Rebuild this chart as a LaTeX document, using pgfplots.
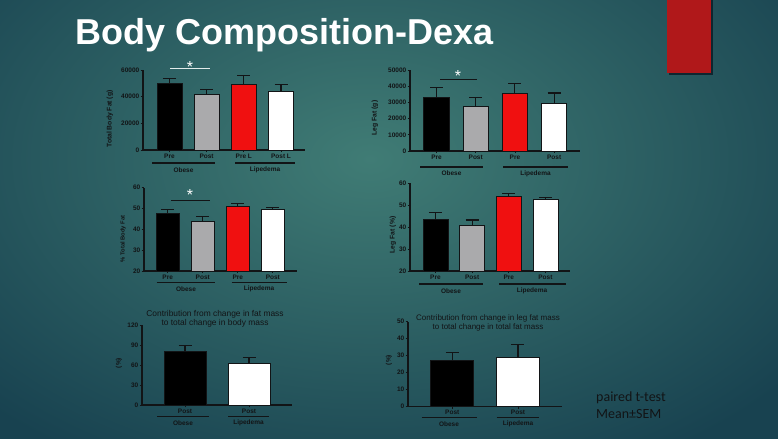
\documentclass[border=0pt]{standalone}
\usepackage{pgfplots}
\pgfplotsset{compat=1.18}
\usepackage{fontspec}
\setmainfont{Liberation Sans}
\newfontfamily\notefont{Carlito}
\definecolor{bgdark}{RGB}{24,66,80}
\definecolor{bglight}{RGB}{64,124,117}
\definecolor{shadow}{RGB}{14,38,48}
\definecolor{ink}{RGB}{18,20,22}
\definecolor{barred}{RGB}{240,16,16}
\definecolor{bargray}{RGB}{170,170,172}
\definecolor{slidered}{RGB}{176,24,26}
\newcommand{\tf}{\fontsize{6.5bp}{7bp}\selectfont\bfseries}
\pgfplotsset{
  dexa/.style={
    scale only axis, clip=true, anchor=south west,
    axis lines=left,
    axis line style={-, line width=1.1bp, ink},
    ybar,
    every tick/.style={ink, line width=0.8bp},
    major tick length=2.5bp,
    tick align=outside,
    tick label style={font=\tf, text=ink},
    /pgf/number format/assume math mode=true,
    /pgf/number format/1000 sep={},
    scaled y ticks=false,
    xticklabel style={inner sep=1bp},
    yticklabel style={inner sep=1bp},
  },
  b/.style={draw=ink, line width=0.8bp, bar shift=0pt,
    error bars/y dir=plus, error bars/y explicit,
    error bars/error bar style={line width=1.1bp, ink},
    error bars/error mark options={ink, line width=1.1bp, mark size=6.5bp, rotate=90}},
}
\newcommand{\sigstar}[2]{\node[anchor=base, text=white, inner sep=0, font=\fontsize{16bp}{16bp}\selectfont] at (#1,#2) {*};}
\begin{document}
\begin{tikzpicture}[x=1bp,y=1bp]
\path[use as bounding box] (0,0) rectangle (778,439);
\begin{scope}
\clip (0,0) rectangle (778,439);
\shade[inner color=bglight, outer color=bgdark] (-170,-70) rectangle (910,630);
\end{scope}
% red block
\fill[shadow] (668.5,364) rectangle (712.5,439);
\fill[slidered] (667,365.5) rectangle (711,439);
% title
\node[anchor=base west, text=white, font=\fontsize{36bp}{40bp}\selectfont\bfseries, inner sep=0] at (75,394) {Body Composition-Dexa};

% ---------- Chart 1: Total Body Fat ----------
\begin{axis}[dexa, at={(143bp,289bp)}, width=162bp, height=80bp,
  xmin=-0.71, xmax=3.645, ymin=0, ymax=60000,
  ytick={0,20000,40000,60000}, xtick={0,1,2,3},
  xticklabels={Pre,Post,Pre L,Post L}]
\addplot[b, fill=black, bar width=25bp] coordinates {(0,50000) +- (0,3800)};
\addplot[b, fill=bargray, bar width=25bp] coordinates {(1,42000) +- (0,3700)};
\addplot[b, fill=barred, bar width=25bp] coordinates {(2,49300) +- (0,6700)};
\addplot[b, fill=white, bar width=25bp] coordinates {(3,43700) +- (0,5600)};
\end{axis}
\node[rotate=90, font=\fontsize{6.8bp}{7bp}\selectfont\bfseries, text=ink] at (110,320) {Total Body Fat (g)};
\draw[white!85!bglight, line width=1bp] (170,370) -- (210,370);
\sigstar{190}{366}
\draw[ink, line width=1.4bp] (152,276) -- (215,276) (235,276) -- (295,276);
\node[font=\tf, text=ink] at (183.5,269) {Obese};
\node[font=\tf, text=ink] at (265,269) {Lipedema};

% ---------- Chart 2: Leg Fat (g) ----------
\begin{axis}[dexa, at={(410bp,288bp)}, width=170bp, height=81bp,
  xmin=-0.676, xmax=3.66, ymin=0, ymax=50000,
  ytick={0,10000,20000,30000,40000,50000}, xtick={0,1,2,3},
  xticklabels={Pre,Post,Pre,Post}]
\addplot[b, fill=black, bar width=25.5bp] coordinates {(0,33000) +- (0,6000)};
\addplot[b, fill=bargray, bar width=25.5bp] coordinates {(1,27300) +- (0,5500)};
\addplot[b, fill=barred, bar width=25.5bp] coordinates {(2,35300) +- (0,6600)};
\addplot[b, fill=white, bar width=25.5bp] coordinates {(3,29400) +- (0,6400)};
\end{axis}
\node[rotate=90, font=\fontsize{6.8bp}{7bp}\selectfont\bfseries, text=ink] at (375,321) {Leg Fat (g)};
\draw[ink, line width=1bp] (440,359) -- (477,359);
\sigstar{458}{357}
\draw[ink, line width=1.4bp] (420,272) -- (483,272) (503,272) -- (568,272);
\node[font=\tf, text=ink] at (451.5,265.5) {Obese};
\node[font=\tf, text=ink] at (535.5,265.5) {Lipedema};

% ---------- Chart 3: % Total Body Fat ----------
\begin{axis}[dexa, at={(144bp,168bp)}, width=153bp, height=83.3bp,
  xmin=-0.677, xmax=3.69, ymin=20, ymax=60,
  ytick={20,30,40,50,60}, xtick={0,1,2,3},
  xticklabels={Pre,Post,Pre,Post}]
\addplot[b, fill=black, bar width=23.3bp] coordinates {(0,47.7) +- (0,2.0)};
\addplot[b, fill=bargray, bar width=23.3bp] coordinates {(1,44.0) +- (0,2.0)};
\addplot[b, fill=barred, bar width=23.3bp] coordinates {(2,50.9) +- (0,1.3)};
\addplot[b, fill=white, bar width=23.3bp] coordinates {(3,49.7) +- (0,0.6)};
\end{axis}
\node[rotate=90, font=\fontsize{5.8bp}{6bp}\selectfont\bfseries, text=ink] at (123,200) {\% Total Body Fat};
\draw[ink, line width=1bp] (171,238.5) -- (210,238.5);
\sigstar{190}{238}
\draw[ink, line width=1.4bp] (156.7,156.7) -- (215,156.7) (231.7,156.7) -- (286.7,156.7);
\node[font=\tf, text=ink] at (186,150) {Obese};
\node[font=\tf, text=ink] at (259,150) {Lipedema};

% ---------- Chart 4: Leg Fat (%) ----------
\begin{axis}[dexa, at={(410bp,168bp)}, width=160bp, height=88bp,
  xmin=-0.695, xmax=3.67, ymin=20, ymax=60,
  ytick={20,30,40,50,60}, xtick={0,1,2,3},
  xticklabels={Pre,Post,Pre,Post}]
\addplot[b, fill=black, bar width=25bp] coordinates {(0,43.5) +- (0,3.0)};
\addplot[b, fill=bargray, bar width=25bp] coordinates {(1,40.9) +- (0,2.3)};
\addplot[b, fill=barred, bar width=25bp] coordinates {(2,53.8) +- (0,1.5)};
\addplot[b, fill=white, bar width=25bp] coordinates {(3,52.7) +- (0,0.6)};
\end{axis}
\node[rotate=90, font=\fontsize{6.8bp}{7bp}\selectfont\bfseries, text=ink] at (393,204) {Leg Fat (\%)};
\draw[ink, line width=1.4bp] (419,155) -- (483,155) (499,155) -- (566,155);
\node[font=\tf, text=ink] at (451,148) {Obese};
\node[font=\tf, text=ink] at (532,148) {Lipedema};

% ---------- Chart 5: contribution fat mass ----------
\begin{axis}[dexa, at={(142bp,34bp)}, width=150bp, height=80bp,
  xmin=-0.672, xmax=1.672, ymin=0, ymax=120,
  ytick={0,30,60,90,120}, xtick={0,1},
  xticklabels={Post,Post}]
\addplot[b, fill=black, bar width=42bp] coordinates {(0,81) +- (0,8)};
\addplot[b, fill=white, bar width=42bp] coordinates {(1,62.5) +- (0,9)};
\end{axis}
\node[font=\fontsize{8.4bp}{9.3bp}\selectfont, text=ink, align=center] at (215,120.5) {Contribution from change in fat mass\\to total change in body mass};
\node[rotate=90, font=\tf, text=ink] at (119,76) {(\%)};
\draw[ink, line width=1.4bp] (157,22.3) -- (209,22.3) (228,22.3) -- (269,22.3);
\node[font=\tf, text=ink] at (183,16) {Obese};
\node[font=\tf, text=ink] at (248.5,16) {Lipedema};

% ---------- Chart 6: contribution leg fat ----------
\begin{axis}[dexa, at={(408bp,32.3bp)}, width=154bp, height=85bp,
  xmin=-0.674, xmax=1.67, ymin=0, ymax=50,
  ytick={0,10,20,30,40,50}, xtick={0,1},
  xticklabels={Post,Post}]
\addplot[b, fill=black, bar width=43bp] coordinates {(0,27.0) +- (0,4.8)};
\addplot[b, fill=white, bar width=43bp] coordinates {(1,28.8) +- (0,7.9)};
\end{axis}
\node[font=\fontsize{8.0bp}{9.5bp}\selectfont, text=ink, align=center] at (488,116) {Contribution from change in leg fat mass\\to total change in total fat mass};
\node[rotate=90, font=\tf, text=ink] at (389,79) {(\%)};
\draw[ink, line width=1.4bp] (421.7,21.7) -- (476.7,21.7) (496.7,21.7) -- (539.3,21.7);
\node[font=\tf, text=ink] at (449,15) {Obese};
\node[font=\tf, text=ink] at (518,15) {Lipedema};

% note
\node[anchor=base west, font=\notefont\fontsize{14bp}{17bp}\selectfont, text=ink, inner sep=0] at (596,37) {paired t-test};
\node[anchor=base west, font=\notefont\fontsize{14bp}{17bp}\selectfont, text=ink, inner sep=0] at (596,20) {Mean±SEM};
\end{tikzpicture}
\end{document}
